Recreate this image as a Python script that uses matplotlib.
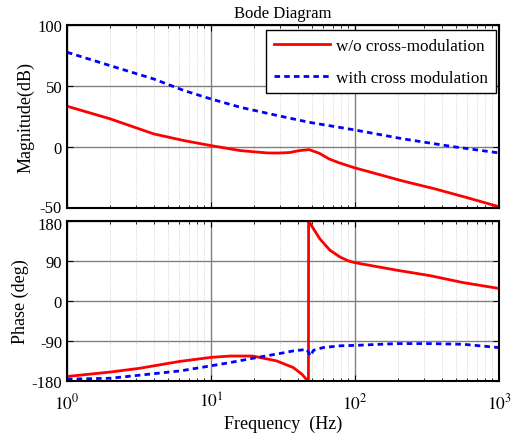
import numpy as np
import matplotlib
matplotlib.use("Agg")
import matplotlib.pyplot as plt
import matplotlib.transforms as mtransforms
from matplotlib.ticker import FixedLocator, LogLocator, NullFormatter

plt.rcParams['font.family'] = ['Liberation Serif', 'DejaVu Serif']
plt.rcParams['mathtext.fontset'] = 'stix'
plt.rcParams['axes.unicode_minus'] = False

# Magnitude data (dB)
f_mag_wo = [1, 2, 4, 6.5, 10, 16, 24.5, 29, 35, 41, 48, 56.6, 66, 77.6, 100, 141, 216, 360, 610, 1000]
mag_wo = [33.4, 23, 10.7, 5.2, 1.1, -3, -4.9, -5, -4.6, -3, -2.2, -5.2, -9.8, -13, -17.2, -22, -28, -34.4, -41.8, -49]
f_mag_with = [1, 2, 4, 6.5, 10, 16, 29, 48, 100, 216, 475, 1000]
mag_with = [77.6, 66.6, 55.7, 46.2, 39.3, 32.5, 25.7, 20.2, 13.9, 6.6, 0.3, -4.9]

# Phase data (deg)
f_ph_wo = [1, 2, 3.2, 6.1, 10, 13.6, 19.5, 28.6, 37.3, 42.8, 46.4, 47.5, 47.6, 52, 57, 67, 78.5, 90,
           100, 196, 330, 560, 1000]
ph_wo = [-170, -160, -151.5, -136, -127, -124, -124, -135, -150, -165, -178, -180, 180, 160, 139.6, 114, 99, 90,
         86, 69, 57, 41.4, 28]
f_ph_with = [1, 2, 3.2, 6.1, 10, 13.6, 19.5, 30.4, 37.3, 46.3, 49, 51.5, 60, 78.6, 100, 196, 330, 560, 1000]
ph_with = [-176, -174, -167, -157.5, -146, -138.6, -129, -118, -112.5, -109, -124, -111, -105, -101,
           -100, -96, -96, -97.5, -105]

fig = plt.figure(figsize=(5.27, 4.39), dpi=100)
ax1 = fig.add_axes([0.127, 0.524, 0.820, 0.417])
ax2 = fig.add_axes([0.127, 0.130, 0.820, 0.3645])

red = '#ff0000'
blue = '#0000ff'

ax1.semilogx(f_mag_wo, mag_wo, color=red, lw=2, label='w/o cross-modulation')
ax1.semilogx(f_mag_with, mag_with, color=blue, lw=2, ls=(0, (2, 1.5)), label='with cross modulation')
ax2.semilogx(f_ph_wo, ph_wo, color=red, lw=2)
ax2.semilogx(f_ph_with, ph_with, color=blue, lw=2, ls=(0, (2, 1.5)))

ax1.set_ylim(-50, 100)
ax1.set_yticks([-50, 0, 50, 100])
ax2.set_ylim(-180, 180)
ax2.set_yticks([-180, -90, 0, 90, 180])

for ax in (ax1, ax2):
    ax.set_xlim(1, 1000)
    ax.xaxis.set_major_locator(FixedLocator([1, 10, 100, 1000]))
    ax.xaxis.set_minor_locator(LogLocator(base=10, subs=np.arange(2, 10), numticks=20))
    ax.xaxis.set_minor_formatter(NullFormatter())
    ax.grid(True, which='major', color='#808080', lw=1, ls='-')
    ax.grid(True, which='minor', axis='x', color='#c8c8c8', lw=0.6, ls=':')
    ax.tick_params(which='both', direction='in', top=True, right=True, labelsize=12)
    ax.tick_params(which='major', length=4)
    ax.tick_params(which='minor', length=2.5)
    for s in ax.spines.values():
        s.set_linewidth(1.5)
    ax.set_axisbelow(True)

ax1.set_xticklabels([])
ax2.set_xticklabels([r'$10^0$', r'$10^1$', r'$10^2$', r'$10^3$'])
ax2.tick_params(axis='x', pad=8, labelsize=12.5)

# nudge the "-50" and "180" labels apart a little, as in the original
fig.canvas.draw()
up = mtransforms.ScaledTranslation(0, 1.5 / 72, fig.dpi_scale_trans)
down = mtransforms.ScaledTranslation(0, -1.5 / 72, fig.dpi_scale_trans)
lab = ax1.get_yticklabels()[0]
lab.set_transform(lab.get_transform() + up)
lab = ax2.get_yticklabels()[-1]
lab.set_transform(lab.get_transform() + down)

ax1.set_ylabel('Magnitude(dB)', fontsize=13, labelpad=2)
ax2.set_ylabel('Phase (deg)', fontsize=13, labelpad=2)
ax2.set_xlabel('Frequency  (Hz)', fontsize=13, labelpad=2)
ax1.set_title('Bode Diagram', fontsize=12, pad=6)

leg = ax1.legend(loc='upper right', bbox_to_anchor=(0.993, 0.973), fontsize=12.3, fancybox=False,
                 framealpha=1, edgecolor='black', borderaxespad=0, borderpad=0.45,
                 labelspacing=0.95, handlelength=3.3, handletextpad=0.35)
leg.get_frame().set_linewidth(1)

fig.savefig('out.png', dpi=100)
